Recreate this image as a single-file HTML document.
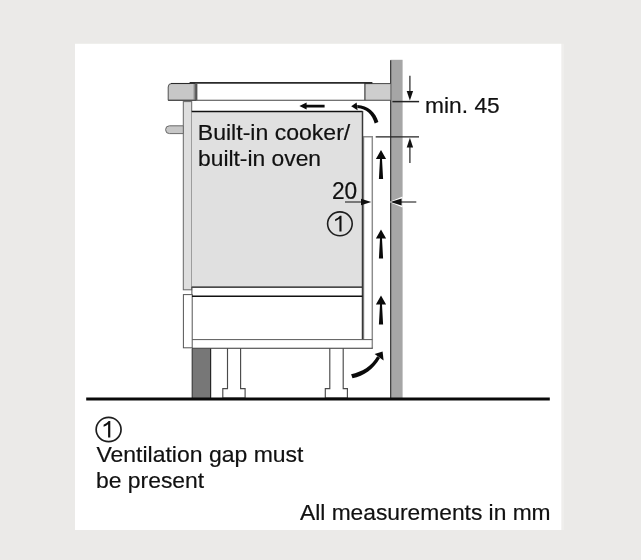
<!DOCTYPE html>
<html><head><meta charset="utf-8">
<style>
html,body{margin:0;padding:0;}
body{width:641px;height:560px;overflow:hidden;background:#ebeae8;font-family:"Liberation Sans",sans-serif;}
svg{display:block;}
#txt{opacity:0.999;}
text{font-family:"Liberation Sans",sans-serif;fill:#111;stroke:#111;stroke-width:0.2px;}
</style></head><body>
<svg width="641" height="560" viewBox="0 0 641 560">
<rect x="0" y="0" width="641" height="560" fill="#ebeae8"/>
<rect x="75" y="43.8" width="489" height="486.2" fill="#efeeec"/>
<rect x="75" y="43.8" width="486.3" height="486.2" fill="#ffffff"/>

<!-- wall -->
<rect x="390.4" y="59.8" width="12.2" height="339" fill="#a6a6a6"/>
<line x1="390.7" y1="60.3" x2="390.7" y2="398" stroke="#2a2a2a" stroke-width="1.1"/>

<!-- hob -->
<path d="M196,83.5 H171.6 Q168.2,83.5 168.2,87 V100.3 H196 Z" fill="#c7c7c7" stroke="#505050" stroke-width="1"/>
<rect x="193.6" y="84" width="2" height="16" fill="#8a8a8a"/>
<rect x="365" y="83.7" width="25.5" height="16.5" fill="#cecece"/>
<line x1="364.9" y1="83" x2="364.9" y2="100.3" stroke="#4a4a4a" stroke-width="1.3"/>
<line x1="364.9" y1="83.6" x2="390.5" y2="83.6" stroke="#333" stroke-width="0.9"/>
<line x1="189.6" y1="82.9" x2="372.4" y2="82.9" stroke="#2a2a2a" stroke-width="1.7"/>
<line x1="168.2" y1="100.3" x2="390.5" y2="100.3" stroke="#444" stroke-width="1.1"/>
<line x1="196.3" y1="82.9" x2="196.3" y2="100.3" stroke="#555" stroke-width="2.2"/>
<line x1="171" y1="83.5" x2="190" y2="83.5" stroke="#2a2a2a" stroke-width="1.1"/>

<!-- oven door front strip -->
<rect x="183.3" y="101.6" width="8.4" height="188.2" fill="#dedede" stroke="#666" stroke-width="1"/>
<!-- handle -->
<path d="M183.3,125.8 H169.5 A3.9,3.9 0 0 0 169.5,133.6 H183.3 Z" fill="#c7c7c7" stroke="#6a6a6a" stroke-width="1"/>
<!-- oven body -->
<rect x="191.7" y="111.5" width="170.8" height="175.7" fill="#e0e0e0"/>
<path d="M191.7,111.5 H362.5 M362.5,287.2 H191.7" fill="none" stroke="#111" stroke-width="1.3"/>
<line x1="191.9" y1="287" x2="191.9" y2="297" stroke="#555" stroke-width="1"/>
<!-- thin panel right -->
<path d="M363.5,340 V136.7 H372.3 V348.3" fill="#fff" stroke="#8c8c8c" stroke-width="1.45"/>
<line x1="362.5" y1="111" x2="362.5" y2="339.6" stroke="#383838" stroke-width="1.5"/>

<!-- plinth -->
<rect x="191.9" y="348.5" width="19" height="50" fill="#777"/>
<line x1="192.2" y1="348.5" x2="192.2" y2="398" stroke="#3a3a3a" stroke-width="1"/>
<line x1="210.7" y1="348.5" x2="210.7" y2="398" stroke="#111" stroke-width="1"/>
<!-- legs -->
<path d="M227.5,348.5 V388.6 H222.8 V398 H245.1 V388.6 H240.6 V348.5" fill="#fff" stroke="#4a4a4a" stroke-width="1.15"/>
<path d="M329.8,348.5 V388.6 H325.3 V398 H347.4 V388.6 H343.2 V348.5" fill="#fff" stroke="#4a4a4a" stroke-width="1.15"/>

<!-- lower drawer -->
<rect x="183.4" y="294.6" width="8.8" height="53.2" fill="#fff" stroke="#555" stroke-width="1"/>
<line x1="192" y1="296.3" x2="362.5" y2="296.3" stroke="#111" stroke-width="1.5"/>
<line x1="192.2" y1="339.6" x2="372.3" y2="339.6" stroke="#5a5a5a" stroke-width="1"/>
<line x1="192" y1="348.3" x2="372.8" y2="348.3" stroke="#333" stroke-width="1.1"/>

<!-- floor -->
<line x1="86.2" y1="399" x2="549.8" y2="399" stroke="#0a0a0a" stroke-width="2.8"/>

<!-- dimension lines -->
<line x1="392.4" y1="101.6" x2="419.1" y2="101.6" stroke="#222" stroke-width="1.5"/>
<line x1="375.7" y1="136.9" x2="419" y2="136.9" stroke="#222" stroke-width="1.4"/>
<line x1="409.9" y1="75.8" x2="409.9" y2="93" stroke="#333" stroke-width="1.3"/>
<path d="M409.9,100.6 L406.7,91 H413.1 Z" fill="#111"/>
<line x1="409.9" y1="146" x2="409.9" y2="163" stroke="#333" stroke-width="1.3"/>
<path d="M409.9,137.8 L406.7,147.5 H413.1 Z" fill="#111"/>

<!-- 20 dimension -->
<line x1="345" y1="202" x2="366" y2="202" stroke="#333" stroke-width="1.2"/>
<path d="M371.3,202 L361,198.8 V205.2 Z" fill="#111"/>
<path d="M389.3,202 L402.6,196.4 V207.6 Z" fill="#fff"/>
<line x1="397" y1="202" x2="416.3" y2="202" stroke="#333" stroke-width="1.2"/>
<path d="M390.4,202 L401.6,198.6 V205.4 Z" fill="#111"/>

<!-- air arrows -->
<g fill="#0a0a0a" stroke="none">
<path d="M381,150 L375.9,159 H380 L378.9,179 H383.1 L382,159 H386.1 Z"/>
<path transform="translate(0,79.5)" d="M381,150 L375.9,159 H380 L378.9,179 H383.1 L382,159 H386.1 Z"/>
<path transform="translate(0,145.5)" d="M381,150 L375.9,159 H380 L378.9,179 H383.1 L382,159 H386.1 Z"/>
<path d="M299.4,106 L306.6,102.6 V104.7 H324.6 V107.4 H306.6 V109.4 Z"/>
</g>
<path d="M378.4,122 C375.6,112 368,105.7 357.2,105 L357.4,108.1 C366.4,108.8 372.2,114.4 374.7,123.6 Z" fill="#0a0a0a"/>
<path d="M351.2,106.3 L356.6,102.4 L357.6,110.2 Z" fill="#0a0a0a"/>
<path d="M351.1,374.2 C362,372 371.5,366.3 377.2,356.3 L380,357.9 C373.6,369.2 364,375.6 352.5,378.3 Z" fill="#0a0a0a"/>
<path d="M382.6,351.6 L383.6,360.6 L374.6,354 Z" fill="#0a0a0a"/>

<!-- text -->
<g id="txt">
<text transform="translate(197.8,139.8) scale(1.063,1)" font-size="21.7">Built-in cooker/</text>
<text transform="translate(198.0,165.5) scale(1.052,1)" font-size="21.7">built-in oven</text>
<text transform="translate(425.1,113.4) scale(1.063,1)" font-size="21.4">min. 45</text>
<text transform="translate(331.9,198.5) scale(0.945,1)" font-size="24">20</text>
<ellipse cx="339.9" cy="223.85" rx="12.3" ry="11.95" fill="none" stroke="#1e1e1e" stroke-width="1.6"/>
<path transform="translate(339.9,223.8) scale(0.95)" d="M1.7,-8.4 V8 H-0.5 V-5.2 Q-2.4,-3.6 -5,-2.7 V-4.8 Q-1.6,-6.2 0.1,-8.4 Z" fill="#111"/>
<ellipse cx="108.6" cy="429.55" rx="12.45" ry="12.1" fill="none" stroke="#1e1e1e" stroke-width="1.7"/>
<path transform="translate(108.6,429.5)" d="M1.7,-8.4 V8 H-0.5 V-5.2 Q-2.4,-3.6 -5,-2.7 V-4.8 Q-1.6,-6.2 0.1,-8.4 Z" fill="#111"/>
<text transform="translate(96.5,462.1) scale(1.026,1)" font-size="22.4">Ventilation gap must</text>
<text transform="translate(96.0,487.6) scale(1.023,1)" font-size="22.4">be present</text>
<text transform="translate(300,519.9) scale(1.022,1)" font-size="22.3">All measurements in mm</text>
</g>
</svg>
</body></html>
